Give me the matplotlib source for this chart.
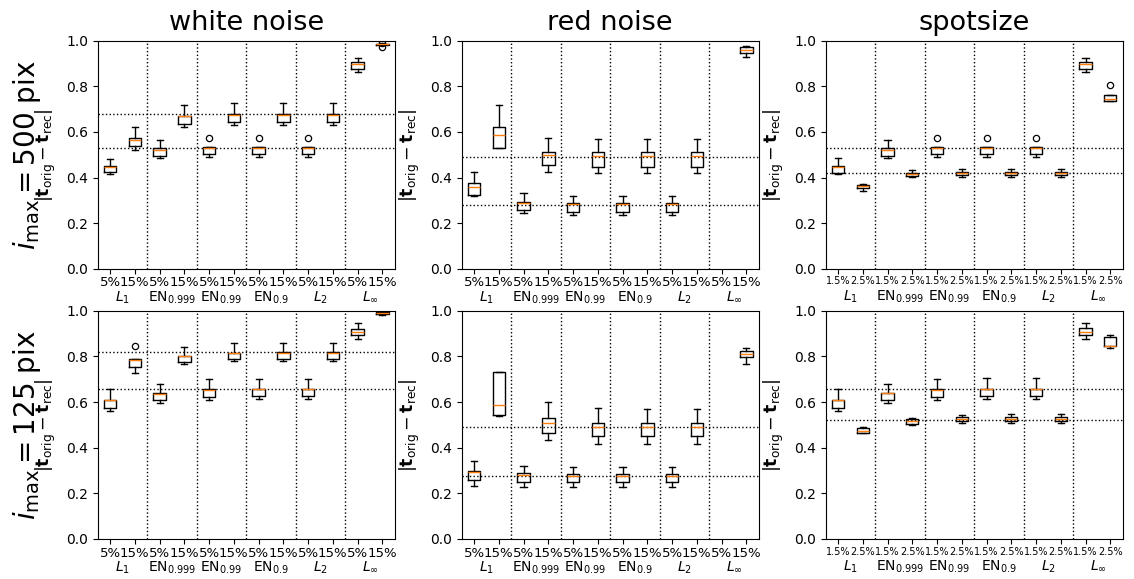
import matplotlib
matplotlib.use("Agg")
import matplotlib.pyplot as plt

col_titles = ["white noise", "red noise", "spotsize"]
row_labels = [r"$i_{\max} = 500$ pix", r"$i_{\max} = 125$ pix"]
group_labels = [r"$L_1$", r"EN$_{0.999}$", r"EN$_{0.99}$", r"EN$_{0.9}$", r"$L_2$", r"$L_\infty$"]
noise_levels = ["5%", "15%"]
spot_levels = ["1.5%", "2.5%"]
ylabel = r"$|\mathbf{t}_{\rm orig} - \mathbf{t}_{\rm rec}|$"

# ---- white noise, i_max = 500 ----
wn500_lo  = [0.416, 0.520, 0.485, 0.623, 0.489, 0.631, 0.489, 0.631, 0.489, 0.631, 0.863, 0.980]
wn500_q1  = [0.423, 0.537, 0.496, 0.634, 0.504, 0.645, 0.504, 0.645, 0.504, 0.645, 0.874, 0.981]
wn500_med = [0.445, 0.566, 0.521, 0.670, 0.530, 0.676, 0.530, 0.676, 0.530, 0.676, 0.898, 0.984]
wn500_q3  = [0.451, 0.572, 0.528, 0.672, 0.533, 0.679, 0.533, 0.679, 0.533, 0.679, 0.907, 0.986]
wn500_hi  = [0.483, 0.623, 0.565, 0.718, 0.533, 0.728, 0.533, 0.728, 0.533, 0.728, 0.926, 0.988]
wn500_fl  = [[], [], [], [], [0.575], [], [0.575], [], [0.575], [], [], [0.972, 0.990]]
wn500_ref = [0.531, 0.677]

# ---- red noise, i_max = 500 ----
rn500_lo  = [0.321, 0.531, 0.244, 0.426, 0.236, 0.422, 0.236, 0.422, 0.236, 0.422, None, 0.930]
rn500_q1  = [0.324, 0.531, 0.258, 0.455, 0.251, 0.448, 0.251, 0.448, 0.251, 0.448, None, 0.947]
rn500_med = [0.358, 0.587, 0.288, 0.499, 0.283, 0.495, 0.283, 0.495, 0.283, 0.495, None, 0.959]
rn500_q3  = [0.375, 0.623, 0.295, 0.514, 0.288, 0.511, 0.288, 0.511, 0.288, 0.511, None, 0.971]
rn500_hi  = [0.426, 0.718, 0.331, 0.575, 0.321, 0.569, 0.321, 0.569, 0.321, 0.569, None, 0.978]
rn500_fl  = [[], [], [], [], [], [], [], [], [], [], [], []]
rn500_ref = [0.280, 0.492]

# ---- spotsize, i_max = 500 ----
sp500_lo  = [0.416, 0.343, 0.485, 0.401, 0.489, 0.404, 0.489, 0.404, 0.489, 0.404, 0.863, 0.734]
sp500_q1  = [0.422, 0.353, 0.495, 0.407, 0.504, 0.410, 0.504, 0.410, 0.504, 0.410, 0.874, 0.737]
sp500_med = [0.445, 0.361, 0.521, 0.416, 0.530, 0.422, 0.530, 0.422, 0.530, 0.422, 0.898, 0.745]
sp500_q3  = [0.451, 0.366, 0.528, 0.422, 0.533, 0.426, 0.533, 0.426, 0.533, 0.426, 0.907, 0.764]
sp500_hi  = [0.485, 0.371, 0.565, 0.434, 0.533, 0.438, 0.533, 0.438, 0.533, 0.438, 0.926, 0.764]
sp500_fl  = [[], [], [], [], [0.575], [], [0.575], [], [0.575], [], [], [0.806]]
sp500_ref = [0.419, 0.531]

# ---- white noise, i_max = 125 ----
wn125_lo  = [0.561, 0.727, 0.595, 0.768, 0.610, 0.781, 0.612, 0.781, 0.612, 0.781, 0.877, 0.981]
wn125_q1  = [0.573, 0.756, 0.610, 0.775, 0.624, 0.788, 0.626, 0.788, 0.626, 0.788, 0.895, 0.986]
wn125_med = [0.608, 0.785, 0.636, 0.801, 0.654, 0.814, 0.656, 0.815, 0.656, 0.815, 0.909, 0.991]
wn125_q3  = [0.610, 0.788, 0.639, 0.804, 0.656, 0.817, 0.658, 0.818, 0.658, 0.818, 0.921, 0.995]
wn125_hi  = [0.658, 0.788, 0.680, 0.841, 0.700, 0.858, 0.702, 0.861, 0.702, 0.861, 0.946, 0.998]
wn125_fl  = [[], [0.844], [], [], [], [], [], [], [], [], [], []]
wn125_ref = [0.658, 0.819]

# ---- red noise, i_max = 125 ----
rn125_lo  = [0.234, 0.537, 0.227, 0.434, 0.227, 0.417, 0.227, 0.417, 0.227, 0.417, None, 0.768]
rn125_q1  = [0.259, 0.544, 0.251, 0.466, 0.249, 0.452, 0.249, 0.452, 0.249, 0.452, None, 0.797]
rn125_med = [0.292, 0.588, 0.281, 0.510, 0.278, 0.493, 0.278, 0.490, 0.278, 0.490, None, 0.810]
rn125_q3  = [0.298, 0.730, 0.288, 0.529, 0.285, 0.510, 0.285, 0.507, 0.285, 0.507, None, 0.826]
rn125_hi  = [0.342, 0.730, 0.322, 0.599, 0.314, 0.573, 0.314, 0.570, 0.314, 0.570, None, 0.839]
rn125_fl  = [[], [], [], [], [], [], [], [], [], [], [], []]
rn125_ref = [0.276, 0.490]

# ---- spotsize, i_max = 125 ----
sp125_lo  = [0.561, 0.463, 0.595, 0.501, 0.610, 0.510, 0.612, 0.510, 0.612, 0.510, 0.877, 0.836]
sp125_q1  = [0.573, 0.466, 0.610, 0.506, 0.624, 0.515, 0.626, 0.515, 0.626, 0.515, 0.895, 0.844]
sp125_med = [0.608, 0.474, 0.639, 0.515, 0.654, 0.525, 0.656, 0.525, 0.656, 0.525, 0.906, 0.846]
sp125_q3  = [0.610, 0.487, 0.642, 0.526, 0.656, 0.534, 0.658, 0.534, 0.658, 0.534, 0.924, 0.884]
sp125_hi  = [0.658, 0.491, 0.680, 0.532, 0.700, 0.544, 0.705, 0.547, 0.705, 0.547, 0.946, 0.892]
sp125_fl  = [[], [], [], [], [], [], [], [], [], [], [], []]
sp125_ref = [0.522, 0.658]

panels = [
    [(wn500_lo, wn500_q1, wn500_med, wn500_q3, wn500_hi, wn500_fl, wn500_ref, noise_levels),
     (rn500_lo, rn500_q1, rn500_med, rn500_q3, rn500_hi, rn500_fl, rn500_ref, noise_levels),
     (sp500_lo, sp500_q1, sp500_med, sp500_q3, sp500_hi, sp500_fl, sp500_ref, spot_levels)],
    [(wn125_lo, wn125_q1, wn125_med, wn125_q3, wn125_hi, wn125_fl, wn125_ref, noise_levels),
     (rn125_lo, rn125_q1, rn125_med, rn125_q3, rn125_hi, rn125_fl, rn125_ref, noise_levels),
     (sp125_lo, sp125_q1, sp125_med, sp125_q3, sp125_hi, sp125_fl, sp125_ref, spot_levels)],
]

fig, axes = plt.subplots(2, 3, figsize=(11.34, 5.79), dpi=100)
fig.subplots_adjust(left=0.0862, right=0.990, top=0.9297, bottom=0.0691,
                    wspace=0.2256, hspace=0.184)

n_groups = len(group_labels)
for r in range(2):
    for c in range(3):
        ax = axes[r, c]
        lo, q1, med, q3, hi, fl, ref, levels = panels[r][c]
        stats, pos = [], []
        for i in range(len(med)):
            if med[i] is None:
                continue
            stats.append(dict(whislo=lo[i], q1=q1[i], med=med[i], q3=q3[i],
                              whishi=hi[i], fliers=fl[i]))
            pos.append(i + 1)
        ax.bxp(stats, positions=pos, widths=0.5,
               flierprops=dict(marker='o', markersize=4.5, markerfacecolor='none',
                               markeredgecolor='black', markeredgewidth=0.9),
               medianprops=dict(color='C1', linewidth=1.0))
        for g in range(1, n_groups):
            ax.axvline(2 * g + 0.5, color='black', linestyle=':', linewidth=1.0)
        for v in ref:
            ax.axhline(v, color='black', linestyle=':', linewidth=1.0)
        ax.set_xlim(0.5, 2 * n_groups + 0.5)
        ax.set_ylim(0.0, 1.0)
        ax.set_yticks([0.0, 0.2, 0.4, 0.6, 0.8, 1.0])
        ax.tick_params(axis='y', labelsize=10)
        ticks = list(range(1, 2 * n_groups + 1))
        ax.set_xticks(ticks, levels * n_groups)
        fs = 7 if c == 2 else 9.5
        ax.tick_params(axis='x', which='major', labelsize=fs, pad=2)
        centers = [2 * g + 1.5 for g in range(n_groups)]
        ax.set_xticks(centers, group_labels, minor=True)
        ax.tick_params(axis='x', which='minor', length=0, labelsize=10,
                       pad=15 if c != 2 else 14)
        ax.set_ylabel(ylabel, fontsize=12.5, labelpad=6)
        if r == 0:
            ax.set_title(col_titles[c], fontsize=19.5, pad=8)
    pos0 = axes[r, 0].get_position()
    fig.text(0.024, (pos0.y0 + pos0.y1) / 2, row_labels[r], rotation=90,
             fontsize=20, ha='center', va='center')

fig.savefig("out.png", dpi=100)
